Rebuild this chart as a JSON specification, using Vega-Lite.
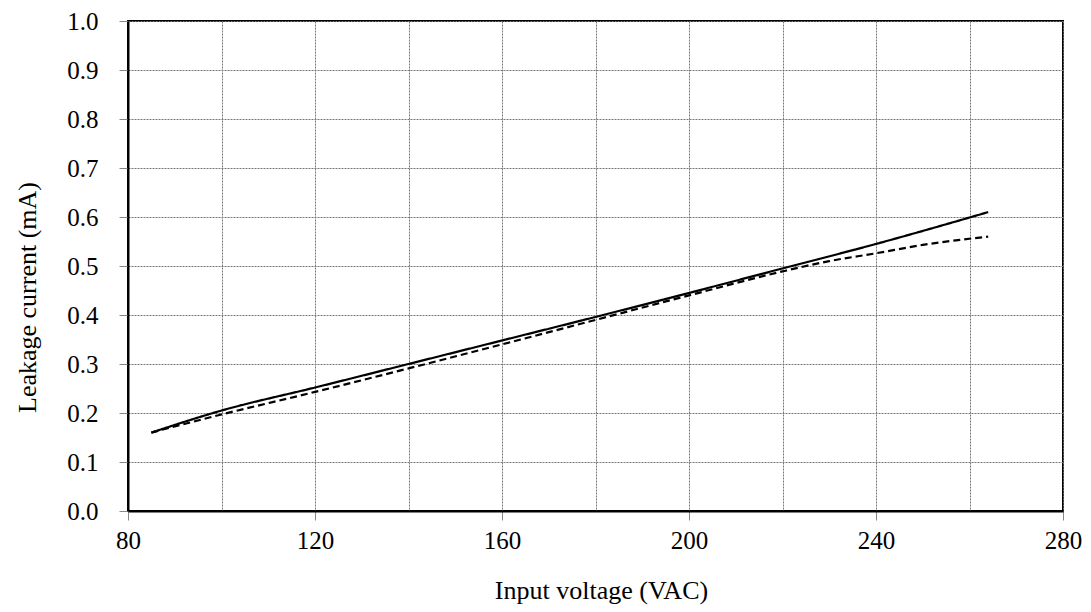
{
  "$schema": "https://vega.github.io/schema/vega-lite/v6.json",
  "autosize": "none",
  "width": 935,
  "height": 490,
  "padding": {"left": 128, "top": 21, "right": 28, "bottom": 101},
  "background": "white",
  "config": {
    "font": "Liberation Serif",
    "view": {"stroke": "black", "strokeWidth": 2},
    "axis": {
      "labelFont": "Liberation Serif",
      "titleFont": "Liberation Serif",
      "labelFontSize": 25,
      "titleFontSize": 26,
      "titleFontWeight": "normal",
      "labelColor": "black",
      "titleColor": "black",
      "domainColor": "black",
      "domainWidth": 2,
      "tickColor": "#888888",
      "tickSize": 9,
      "gridColor": "#777777",
      "gridDash": [2, 1],
      "gridWidth": 1,
      "labelFlush": false,
      "labelOverlap": false
    }
  },
  "data": {
    "values": [
      {"v": 85, "i": 0.16, "s": "A"},
      {"v": 100, "i": 0.205, "s": "A"},
      {"v": 120, "i": 0.252, "s": "A"},
      {"v": 140, "i": 0.300, "s": "A"},
      {"v": 160, "i": 0.348, "s": "A"},
      {"v": 180, "i": 0.396, "s": "A"},
      {"v": 200, "i": 0.445, "s": "A"},
      {"v": 220, "i": 0.495, "s": "A"},
      {"v": 240, "i": 0.545, "s": "A"},
      {"v": 264, "i": 0.61, "s": "A"},
      {"v": 85, "i": 0.16, "s": "B"},
      {"v": 100, "i": 0.197, "s": "B"},
      {"v": 120, "i": 0.243, "s": "B"},
      {"v": 140, "i": 0.291, "s": "B"},
      {"v": 160, "i": 0.340, "s": "B"},
      {"v": 180, "i": 0.390, "s": "B"},
      {"v": 200, "i": 0.440, "s": "B"},
      {"v": 220, "i": 0.489, "s": "B"},
      {"v": 230, "i": 0.510, "s": "B"},
      {"v": 240, "i": 0.526, "s": "B"},
      {"v": 250, "i": 0.543, "s": "B"},
      {"v": 264, "i": 0.56, "s": "B"}
    ]
  },
  "mark": {"type": "line", "color": "black", "strokeWidth": 2.2, "interpolate": "monotone"},
  "encoding": {
    "x": {
      "field": "v", "type": "quantitative",
      "scale": {"domain": [80, 280], "nice": false, "zero": false},
      "axis": {
        "title": "Input voltage (VAC)",
        "values": [80, 100, 120, 140, 160, 180, 200, 220, 240, 260, 280],
        "labelExpr": "datum.value % 40 == 0 ? datum.label : ''",
        "tickOpacity": {"condition": {"test": "datum.value % 40 == 0", "value": 1}, "value": 0},
        "labelPadding": 8,
        "titlePadding": 24,
        "titleX": 473
      }
    },
    "y": {
      "field": "i", "type": "quantitative",
      "scale": {"domain": [0, 1], "nice": false},
      "axis": {
        "title": "Leakage current (mA)",
        "values": [0, 0.1, 0.2, 0.3, 0.4, 0.5, 0.6, 0.7, 0.8, 0.9, 1.0],
        "format": ".1f",
        "labelPadding": 21,
        "titlePadding": 26,
        "titleY": 276
      }
    },
    "strokeDash": {
      "field": "s", "type": "nominal",
      "scale": {"domain": ["A", "B"], "range": [[1, 0], [7, 4]]},
      "legend": null
    }
  }
}
